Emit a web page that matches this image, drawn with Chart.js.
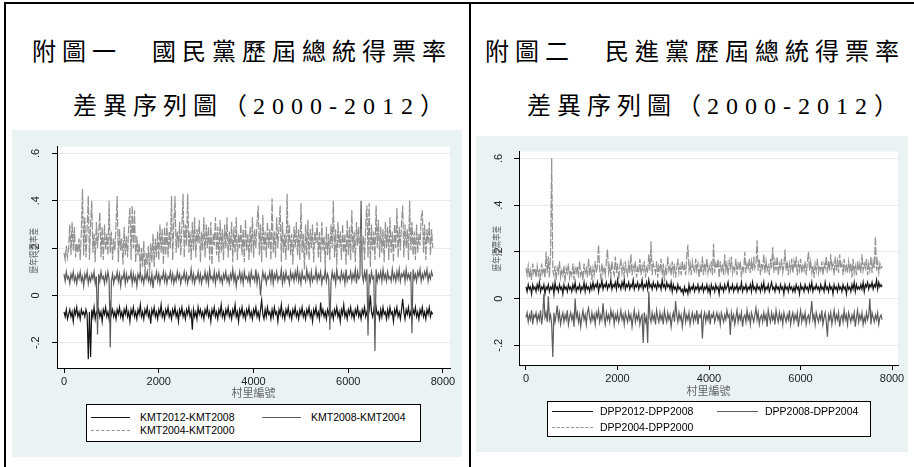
<!DOCTYPE html>
<html>
<head>
<meta charset="utf-8">
<script src="https://cdn.jsdelivr.net/npm/chart.js@4.4.1/dist/chart.umd.min.js"></script>
<style>
    html, body { margin: 0; padding: 0; background: #fff; }
    body { width: 914px; height: 467px; position: relative; overflow: hidden;
           font-family: "Liberation Sans", Arial, sans-serif; }
    .rule  { position: absolute; background: #000; }
    .title { position: absolute; white-space: nowrap; color: #000;
             font-family: "Liberation Serif", "Noto Sans CJK TC", serif;
             font-size: 24px; line-height: 24px; letter-spacing: 6px; }
    .title .num { letter-spacing: 7px; }
    .panel { position: absolute; background: #eaf2f3; }
    .panel canvas { position: absolute; left: 0; top: 0; }
    .legend { position: absolute; box-sizing: border-box; background: #fff;
              border: 1px solid #000; font-size: 10.5px; color: #000; }
    .item { position: absolute; height: 14px; line-height: 14px;
            display: flex; align-items: center; white-space: nowrap; }
    .swatch { display: inline-block; height: 0; border-top: 1px solid #000; }
</style>
</head>
<body>

<div class="rule" style="left:4px;top:2px;width:910px;height:2px"></div>
<div class="rule" style="left:4px;top:2px;width:2px;height:465px"></div>
<div class="rule" style="left:469px;top:2px;width:2px;height:465px"></div>

<div class="title" style="left:32px;top:40px">附圖一　國民黨歷屆總統得票率</div>
<div class="title" style="left:73px;top:94px">差異序列圖（<span class="num">2000-2012</span>）</div>
<div class="title" style="left:485px;top:40px">附圖二　民進黨歷屆總統得票率</div>
<div class="title" style="left:527px;top:94px">差異序列圖（<span class="num">2000-2012</span>）</div>

<div class="panel" style="left:12px;top:130px;width:450px;height:327px">
    <canvas id="kmtChart" width="450" height="327"></canvas>
</div>
<div class="panel" style="left:476px;top:136px;width:432px;height:316px">
    <canvas id="dppChart" width="432" height="316"></canvas>
</div>

<div class="legend" id="kmtLegend" style="left:86px;top:404px;width:335px;height:38px"></div>
<div class="legend" id="dppLegend" style="left:547px;top:401px;width:324px;height:36px"></div>

<script>
// ── Data ──────────────────────────────────────────────
const villageStep = 24.4;   // 村里編號 spacing between plotted points
const xTicks = [0, 2000, 4000, 6000, 8000];
const xTickLabels = ['0', '2000', '4000', '6000', '8000'];
const yTicks = [-0.2, 0, 0.2, 0.4, 0.6];
const yTickLabels = ['-.2', '0', '.2', '.4', '.6'];
const xTitle = '村里編號';
const yTitle = '歷年得票率差';

const kmtNames = ['KMT2012-KMT2008', 'KMT2008-KMT2004', 'KMT2004-KMT2000'];
const dppNames = ['DPP2012-DPP2008', 'DPP2008-DPP2004', 'DPP2004-DPP2000'];

const kmt1208 = [
    -0.07, -0.09, -0.06, -0.10, -0.08, -0.06, -0.09, -0.07, -0.11, -0.06, -0.08, -0.05, -0.09, -0.07, -0.10, -0.06, -0.08, -0.07, -0.09, -0.06,
    -0.08, -0.27, -0.07, -0.26, -0.06, -0.09, -0.05, -0.10, -0.07, -0.08, -0.06, -0.09, -0.07, -0.11, -0.06, -0.08, -0.05, -0.09, -0.07, -0.10,
    -0.04, -0.08, -0.06, -0.09, -0.07, -0.10, -0.06, -0.08, -0.05, -0.09, -0.07, -0.10, -0.06, -0.08, -0.05, -0.09, -0.07, -0.11, -0.06, -0.08,
    -0.05, -0.09, -0.07, -0.10, -0.06, -0.08, -0.04, -0.09, -0.07, -0.10, -0.06, -0.08, -0.05, -0.09, -0.07, -0.12, -0.06, -0.08, -0.05, -0.09,
    -0.07, -0.10, -0.06, -0.08, -0.04, -0.09, -0.07, -0.10, -0.06, -0.08, -0.05, -0.09, -0.07, -0.10, -0.06, -0.08, -0.05, -0.09, -0.07, -0.11,
    -0.06, -0.08, -0.05, -0.09, -0.07, -0.10, -0.06, -0.08, -0.05, -0.09, -0.07, -0.145, -0.06, -0.09, -0.07, -0.10, -0.05, -0.08, -0.06, -0.09,
    -0.07, -0.10, -0.06, -0.08, -0.05, -0.09, -0.07, -0.11, -0.06, -0.08, -0.05, -0.09, -0.07, -0.10, -0.06, -0.08, -0.04, -0.09, -0.07, -0.10,
    -0.06, -0.08, -0.05, -0.09, -0.07, -0.10, -0.06, -0.08, -0.04, -0.09, -0.07, -0.11, -0.06, -0.08, -0.05, -0.09, -0.07, -0.10, -0.06, -0.08,
    -0.05, -0.09, -0.07, -0.10, -0.06, -0.08, -0.05, -0.09, -0.07, -0.10, -0.06, -0.02, -0.08, -0.10, -0.06, -0.09, -0.05, -0.08, -0.07, -0.10,
    -0.06, -0.09, -0.05, -0.08, -0.07, -0.11, -0.06, -0.08, -0.04, -0.09, -0.07, -0.10, -0.06, -0.08, -0.05, -0.09, -0.07, -0.10, -0.06, -0.08,
    -0.05, -0.09, -0.07, -0.10, -0.06, -0.08, -0.05, -0.09, -0.07, -0.10, -0.06, -0.08, -0.05, -0.09, -0.07, -0.11, -0.06, -0.08, -0.05, -0.09,
    -0.07, -0.10, -0.03, -0.08, -0.06, -0.09, -0.07, -0.10, -0.06, -0.08, -0.05, -0.09, -0.07, -0.10, -0.06, -0.08, -0.05, -0.09, -0.07, -0.11,
    -0.06, -0.08, -0.04, -0.09, -0.07, -0.10, -0.06, -0.08, -0.05, -0.09, -0.07, -0.10, -0.06, -0.08, -0.05, -0.09, -0.07, -0.10, -0.06, -0.08,
    -0.05, -0.09, -0.07, -0.10, -0.06, 0.00, -0.07, -0.09, -0.06, -0.10, -0.05, -0.08, -0.07, -0.10, -0.06, -0.09, -0.05, -0.08, -0.07, -0.10,
    -0.06, -0.09, -0.05, -0.08, -0.07, -0.11, -0.06, -0.08, -0.05, -0.09, -0.07, -0.10, -0.06, -0.015, -0.07, -0.10, -0.06, -0.08, -0.05, -0.09,
    -0.07, -0.10, -0.06, -0.08, -0.05, -0.09, -0.07, -0.10, -0.06, -0.08, -0.05, -0.09, -0.07, -0.10, -0.06, -0.08, -0.05, -0.09, -0.07, -0.08,
];
const kmt0804 = [
    0.09, 0.06, 0.10, 0.07, 0.08, 0.05, 0.09, 0.07, 0.10, 0.06, 0.08, 0.05, 0.09, 0.07, 0.10, 0.06, 0.08, 0.04, 0.09, 0.07,
    0.10, 0.05, 0.08, 0.06, 0.09, 0.07, 0.10, 0.05, 0.08, -0.165, 0.09, 0.06, 0.10, 0.07, 0.08, 0.05, 0.09, 0.06, 0.10, 0.07,
    -0.22, 0.06, 0.09, 0.05, 0.08, 0.07, 0.10, 0.06, 0.09, 0.04, 0.08, 0.07, 0.10, 0.05, 0.09, 0.06, 0.08, 0.07, 0.10, 0.05,
    0.09, 0.06, 0.08, 0.04, 0.09, 0.07, 0.10, 0.06, 0.08, 0.05, 0.09, 0.07, 0.10, 0.06, 0.08, 0.05, 0.09, 0.03, 0.08, 0.07,
    0.10, 0.06, 0.09, 0.05, 0.08, 0.07, 0.10, 0.06, 0.09, 0.05, 0.08, 0.07, 0.10, 0.06, 0.09, 0.05, 0.08, 0.06, 0.10, 0.07,
    0.09, 0.05, 0.08, 0.07, 0.10, 0.06, 0.09, 0.05, 0.08, 0.07, 0.11, 0.06, 0.09, 0.05, 0.08, 0.07, 0.10, 0.06, 0.09, 0.05,
    0.08, 0.07, 0.10, 0.06, 0.09, 0.05, 0.11, 0.07, 0.08, 0.06, 0.10, 0.05, 0.09, 0.07, 0.10, 0.06, 0.08, 0.05, 0.09, 0.07,
    0.10, 0.06, 0.08, 0.05, 0.09, 0.07, 0.11, 0.06, 0.09, 0.04, 0.08, 0.07, 0.10, 0.06, 0.09, 0.05, 0.10, 0.07, 0.08, 0.06,
    0.09, 0.05, 0.10, 0.07, 0.08, 0.06, 0.11, 0.05, 0.09, 0.07, 0.00, 0.06, 0.10, 0.07, 0.09, 0.05, 0.08, 0.07, 0.10, 0.06,
    0.11, 0.05, 0.09, 0.07, 0.10, 0.06, 0.08, 0.07, 0.11, 0.05, 0.09, 0.06, 0.10, 0.07, 0.08, 0.05, 0.10, 0.07, 0.09, 0.06,
    0.10, 0.07, 0.11, 0.06, 0.09, 0.05, 0.10, 0.07, 0.08, 0.06, 0.11, 0.07, 0.09, 0.05, 0.10, 0.06, 0.08, 0.07, 0.11, 0.06,
    0.09, 0.07, 0.10, 0.05, 0.08, 0.07, 0.11, 0.06, 0.09, 0.07, -0.145, 0.06, 0.10, 0.07, 0.09, 0.05, 0.11, 0.07, 0.08, 0.06,
    0.10, 0.07, 0.09, 0.05, 0.11, 0.06, 0.08, 0.07, 0.10, 0.06, 0.09, 0.07, 0.11, 0.05, 0.10, 0.07, 0.08, 0.40, 0.09, 0.06,
    0.10, 0.07, 0.11, -0.17, 0.09, 0.06, 0.10, 0.07, 0.08, -0.235, 0.11, 0.06, 0.09, 0.07, 0.10, 0.06, 0.11, 0.07, 0.09, 0.06,
    0.10, 0.07, 0.08, 0.06, 0.11, 0.07, 0.09, 0.06, 0.10, 0.07, 0.11, 0.06, 0.09, 0.08, 0.10, 0.06, 0.11, 0.07, 0.09, 0.07,
    0.10, -0.16, 0.11, 0.07, 0.09, 0.06, 0.10, 0.08, 0.11, 0.06, 0.09, 0.07, 0.10, 0.08, 0.11, 0.06, 0.09, 0.07, 0.10, 0.08,
];
const kmt0400 = [
    0.18, 0.15, 0.21, 0.16, 0.20, 0.30, 0.17, 0.31, 0.19, 0.29, 0.16, 0.22, 0.18, 0.24, 0.15, 0.27, 0.45, 0.17, 0.33, 0.16,
    0.28, 0.42, 0.15, 0.30, 0.40, 0.18, 0.26, 0.14, 0.31, 0.20, 0.27, 0.35, 0.16, 0.29, 0.15, 0.30, 0.19, 0.26, 0.17, 0.40,
    0.18, 0.27, 0.15, 0.24, 0.19, 0.30, 0.42, 0.14, 0.28, 0.19, 0.24, 0.13, 0.29, 0.17, 0.25, 0.16, 0.30, 0.37, 0.15, 0.38,
    0.20, 0.36, 0.14, 0.25, 0.17, 0.22, 0.10, 0.20, 0.12, 0.23, 0.08, 0.18, 0.13, 0.21, 0.09, 0.22, 0.14, 0.26, 0.12, 0.24,
    0.16, 0.27, 0.15, 0.30, 0.18, 0.28, 0.13, 0.29, 0.17, 0.31, 0.16, 0.27, 0.20, 0.42, 0.15, 0.30, 0.42, 0.18, 0.27, 0.20,
    0.31, 0.17, 0.29, 0.43, 0.16, 0.30, 0.21, 0.43, 0.18, 0.27, 0.15, 0.31, 0.19, 0.33, 0.16, 0.28, 0.22, 0.32, 0.14, 0.27,
    0.19, 0.33, 0.16, 0.30, 0.20, 0.29, 0.15, 0.31, 0.13, 0.26, 0.21, 0.33, 0.17, 0.29, 0.14, 0.32, 0.18, 0.28, 0.15, 0.30,
    0.20, 0.33, 0.16, 0.27, 0.19, 0.31, 0.14, 0.29, 0.18, 0.33, 0.15, 0.26, 0.20, 0.30, 0.17, 0.28, 0.14, 0.32, 0.19, 0.26,
    0.15, 0.29, 0.18, 0.33, 0.16, 0.28, 0.20, 0.31, 0.38, 0.17, 0.30, 0.14, 0.34, 0.19, 0.27, 0.16, 0.31, 0.20, 0.28, 0.15,
    0.41, 0.18, 0.27, 0.16, 0.33, 0.20, 0.29, 0.38, 0.14, 0.31, 0.18, 0.26, 0.15, 0.43, 0.19, 0.30, 0.17, 0.26, 0.13, 0.29,
    0.20, 0.31, 0.17, 0.28, 0.15, 0.39, 0.18, 0.26, 0.11, 0.30, 0.17, 0.32, 0.15, 0.28, 0.20, 0.30, 0.14, 0.27, 0.22, 0.31,
    0.16, 0.27, 0.14, 0.31, 0.19, 0.25, 0.12, 0.29, 0.17, 0.26, 0.15, 0.30, 0.20, 0.40, 0.16, 0.28, 0.13, 0.31, 0.20, 0.27,
    0.15, 0.30, 0.18, 0.26, 0.13, 0.32, 0.17, 0.29, 0.15, 0.36, 0.18, 0.27, 0.14, 0.31, 0.21, 0.29, 0.16, 0.28, 0.19, 0.25,
    0.15, 0.30, 0.38, 0.16, 0.39, 0.12, 0.30, 0.19, 0.27, 0.15, 0.38, 0.20, 0.32, 0.16, 0.29, 0.18, 0.28, 0.14, 0.31, 0.20,
    0.29, 0.15, 0.33, 0.18, 0.27, 0.14, 0.30, 0.20, 0.37, 0.16, 0.29, 0.19, 0.31, 0.38, 0.16, 0.30, 0.20, 0.28, 0.15, 0.40,
    0.19, 0.31, 0.17, 0.27, 0.15, 0.30, 0.18, 0.26, 0.21, 0.33, 0.36, 0.18, 0.30, 0.15, 0.28, 0.22, 0.31, 0.17, 0.28, 0.20,
];

const dpp1208 = [
    0.05, 0.03, 0.06, 0.04, 0.05, 0.02, 0.06, 0.04, 0.05, 0.03, 0.06, 0.04, 0.07, 0.03, 0.05, 0.04, 0.06, 0.02, 0.05, 0.04,
    0.06, 0.03, 0.05, 0.04, 0.06, 0.02, 0.07, 0.04, 0.05, 0.03, 0.06, 0.04, 0.05, 0.02, 0.06, 0.04, 0.05, 0.03, 0.06, 0.04,
    0.05, 0.03, 0.06, 0.04, 0.07, 0.03, 0.05, 0.04, 0.06, 0.03, 0.05, 0.04, 0.07, 0.03, 0.06, 0.04, 0.05, 0.03, 0.06, 0.04,
    0.07, 0.04, 0.06, 0.05, 0.07, 0.03, 0.06, 0.05, 0.08, 0.04, 0.06, 0.05, 0.07, 0.04, 0.06, 0.05, 0.08, 0.04, 0.06, 0.05,
    0.07, 0.04, 0.08, 0.05, 0.06, 0.04, 0.07, 0.05, 0.08, 0.04, 0.06, 0.05, 0.07, 0.04, 0.06, 0.05, 0.08, 0.04, 0.06, 0.05,
    0.07, 0.04, 0.06, 0.05, 0.08, 0.04, 0.06, 0.05, 0.07, 0.04, 0.08, 0.05, 0.06, 0.04, 0.07, 0.05, 0.06, 0.04, 0.07, 0.05,
    0.06, 0.04, 0.08, 0.05, 0.06, 0.04, 0.07, 0.05, 0.06, 0.04, 0.07, 0.03, 0.06, 0.04, 0.05, 0.03, 0.06, 0.04, 0.05, 0.03,
    0.04, 0.02, 0.05, 0.03, 0.04, 0.02, 0.06, 0.03, 0.05, 0.04, 0.06, 0.03, 0.05, 0.04, 0.06, 0.03, 0.05, 0.04, 0.06, 0.03,
    0.05, 0.04, 0.06, 0.03, 0.05, 0.02, 0.06, 0.04, 0.05, 0.03, 0.06, 0.04, 0.05, 0.02, 0.06, 0.04, 0.05, 0.03, 0.06, 0.04,
    0.05, 0.07, 0.03, 0.05, 0.04, 0.06, 0.03, 0.05, 0.04, 0.06, 0.03, 0.05, 0.04, 0.07, 0.03, 0.05, 0.04, 0.06, 0.03, 0.05,
    0.04, 0.06, 0.03, 0.07, 0.04, 0.05, 0.03, 0.06, 0.04, 0.05, 0.03, 0.06, 0.04, 0.07, 0.03, 0.05, 0.04, 0.06, 0.03, 0.05,
    0.07, 0.04, 0.05, 0.03, 0.06, 0.04, 0.05, 0.03, 0.06, 0.04, 0.05, 0.02, 0.06, 0.04, 0.05, 0.03, 0.06, 0.04, 0.05, 0.03,
    0.05, 0.03, 0.06, 0.04, 0.05, 0.02, 0.06, 0.04, 0.05, 0.03, 0.06, 0.04, 0.05, 0.03, 0.06, 0.04, 0.07, 0.03, 0.05, 0.04,
    0.06, 0.04, 0.05, 0.03, 0.06, 0.04, 0.05, 0.03, 0.07, 0.04, 0.05, 0.03, 0.06, 0.04, 0.05, 0.02, 0.06, 0.04, 0.05, 0.03,
    0.06, 0.04, 0.05, 0.03, 0.06, 0.04, 0.05, 0.02, 0.06, 0.04, 0.05, 0.03, 0.06, 0.04, 0.07, 0.03, 0.06, 0.04, 0.05, 0.04,
    0.06, 0.04, 0.07, 0.03, 0.06, 0.05, 0.07, 0.04, 0.06, 0.05, 0.07, 0.04, 0.06, 0.05, 0.08, 0.04, 0.07, 0.05, 0.06, 0.05,
];
const dpp0804 = [
    -0.08, -0.06, -0.10, -0.07, -0.09, -0.05, -0.11, -0.07, -0.08, -0.06, -0.10, -0.07, -0.09, -0.05, -0.11, -0.07, 0.02, -0.08, -0.06, -0.10,
    0.01, -0.09, -0.07, -0.11, -0.25, -0.06, -0.10, -0.07, -0.03, -0.09, -0.06, -0.11, -0.08, -0.06, -0.10, -0.07, -0.09, -0.05, -0.11, -0.08,
    -0.06, -0.09, -0.07, -0.12, 0.00, -0.08, -0.06, -0.10, -0.07, -0.12, -0.08, -0.05, -0.09, -0.07, -0.11, -0.06, -0.04, -0.08, -0.10, -0.06,
    -0.09, -0.07, -0.11, -0.06, -0.08, -0.05, -0.10, -0.07, -0.09, -0.02, -0.08, -0.11, -0.06, -0.09, -0.07, -0.10, -0.05, -0.08, -0.06, -0.11,
    -0.07, -0.09, -0.06, -0.10, -0.08, -0.05, -0.09, -0.07, -0.11, -0.06, -0.08, -0.10, -0.06, -0.09, -0.07, -0.12, -0.08, -0.05, -0.10, -0.07,
    -0.09, -0.06, -0.11, -0.08, -0.07, -0.19, -0.06, -0.10, -0.08, -0.19, 0.03, -0.08, -0.10, -0.06, -0.09, -0.07, -0.11, -0.05, -0.08, -0.10,
    -0.06, -0.09, -0.07, -0.11, -0.05, -0.08, -0.10, -0.06, -0.09, -0.07, -0.12, -0.08, -0.06, -0.10, -0.01, -0.07, -0.10, -0.06, -0.09, -0.07,
    -0.12, -0.08, -0.05, -0.10, -0.07, -0.09, -0.06, -0.11, -0.08, -0.06, -0.10, -0.07, -0.09, -0.05, -0.11, -0.07, -0.08, -0.06, -0.17, -0.08,
    -0.06, -0.10, -0.07, -0.09, -0.05, -0.11, -0.07, -0.08, -0.06, -0.10, -0.08, -0.06, -0.09, -0.07, -0.11, -0.06, -0.08, -0.10, -0.07, -0.09,
    -0.05, -0.08, -0.07, -0.155, -0.06, -0.09, -0.07, -0.11, -0.08, -0.05, -0.10, -0.07, -0.09, -0.06, -0.12, -0.08, -0.07, -0.10, -0.05, -0.09,
    -0.07, -0.11, -0.06, -0.08, -0.10, -0.07, -0.04, -0.09, -0.06, -0.11, -0.08, -0.07, -0.10, -0.06, -0.09, -0.07, -0.12, -0.05, -0.08, -0.10,
    -0.06, -0.09, -0.07, -0.11, -0.05, -0.08, -0.10, -0.06, -0.09, -0.07, -0.11, -0.06, -0.08, -0.10, -0.07, -0.09, -0.05, -0.11, -0.08, -0.06,
    -0.10, -0.07, -0.09, -0.06, -0.12, -0.08, -0.05, -0.10, -0.07, -0.09, -0.06, -0.11, -0.08, -0.07, -0.10, -0.06, -0.01, -0.09, -0.07, -0.11,
    -0.06, -0.08, -0.10, -0.07, -0.09, -0.05, -0.11, -0.08, -0.06, -0.10, -0.163, -0.07, -0.09, -0.06, -0.11, -0.08, -0.05, -0.10, -0.07, -0.09,
    -0.06, -0.12, -0.08, -0.07, -0.10, -0.05, -0.09, -0.07, -0.11, -0.06, -0.08, -0.10, -0.07, -0.09, -0.06, -0.12, -0.08, -0.05, -0.10, -0.07,
    -0.09, -0.06, -0.11, -0.08, -0.10, -0.06, -0.09, -0.07, 0.00, -0.11, -0.06, -0.08, -0.10, -0.07, -0.09, -0.06, -0.11, -0.08, -0.07, -0.09,
];
const dpp0400 = [
    0.13, 0.10, 0.14, 0.09, 0.12, 0.08, 0.15, 0.11, 0.13, 0.09, 0.14, 0.10, 0.12, 0.08, 0.15, 0.11, 0.13, 0.09, 0.20, 0.11,
    0.18, 0.09, 0.19, 0.60, 0.12, 0.10, 0.14, 0.08, 0.13, 0.11, 0.16, 0.09, 0.12, 0.10, 0.14, 0.07, 0.13, 0.11, 0.15, 0.09,
    0.12, 0.10, 0.15, 0.08, 0.13, 0.11, 0.14, 0.09, 0.16, 0.10, 0.12, 0.08, 0.15, 0.11, 0.13, 0.09, 0.17, 0.10, 0.14, 0.08,
    0.13, 0.10, 0.16, 0.11, 0.14, 0.23, 0.12, 0.09, 0.15, 0.11, 0.13, 0.10, 0.16, 0.21, 0.11, 0.14, 0.09, 0.16, 0.12, 0.10,
    0.18, 0.11, 0.15, 0.08, 0.13, 0.17, 0.11, 0.14, 0.09, 0.16, 0.12, 0.10, 0.15, 0.11, 0.19, 0.10, 0.14, 0.12, 0.16, 0.09,
    0.13, 0.11, 0.17, 0.10, 0.14, 0.12, 0.16, 0.09, 0.13, 0.11, 0.19, 0.12, 0.245, 0.10, 0.15, 0.13, 0.11, 0.16, 0.09, 0.14,
    0.12, 0.17, 0.10, 0.15, 0.07, 0.13, 0.11, 0.18, 0.12, 0.14, 0.10, 0.16, 0.11, 0.15, 0.09, 0.13, 0.17, 0.11, 0.14, 0.10,
    0.16, 0.12, 0.14, 0.10, 0.18, 0.23, 0.12, 0.15, 0.10, 0.16, 0.13, 0.11, 0.17, 0.12, 0.15, 0.09, 0.14, 0.11, 0.18, 0.10,
    0.15, 0.12, 0.17, 0.11, 0.14, 0.12, 0.16, 0.10, 0.235, 0.11, 0.15, 0.13, 0.17, 0.09, 0.16, 0.12, 0.14, 0.10, 0.19, 0.12,
    0.15, 0.10, 0.16, 0.13, 0.18, 0.11, 0.14, 0.12, 0.17, 0.10, 0.15, 0.13, 0.16, 0.09, 0.14, 0.12, 0.20, 0.11, 0.15, 0.13,
    0.17, 0.11, 0.16, 0.12, 0.18, 0.13, 0.15, 0.25, 0.12, 0.17, 0.10, 0.15, 0.13, 0.19, 0.11, 0.16, 0.12, 0.14, 0.10, 0.17,
    0.13, 0.22, 0.11, 0.16, 0.12, 0.18, 0.10, 0.15, 0.13, 0.17, 0.11, 0.14, 0.21, 0.12, 0.16, 0.10, 0.15, 0.12, 0.17, 0.11,
    0.16, 0.13, 0.18, 0.10, 0.15, 0.12, 0.17, 0.11, 0.14, 0.12, 0.16, 0.10, 0.15, 0.20, 0.12, 0.16, 0.11, 0.14, 0.09, 0.15,
    0.12, 0.17, 0.11, 0.14, 0.12, 0.16, 0.10, 0.15, 0.13, 0.18, 0.11, 0.16, 0.12, 0.19, 0.13, 0.15, 0.10, 0.18, 0.12, 0.16,
    0.11, 0.19, 0.13, 0.15, 0.10, 0.17, 0.12, 0.14, 0.11, 0.16, 0.12, 0.15, 0.09, 0.17, 0.11, 0.14, 0.10, 0.16, 0.12, 0.15,
    0.11, 0.19, 0.12, 0.15, 0.13, 0.17, 0.10, 0.15, 0.12, 0.18, 0.11, 0.16, 0.13, 0.265, 0.12, 0.16, 0.11, 0.15, 0.13, 0.14,
];

// ── Styles (Stata s2 mono look) ───────────────────────
const lineStyles = [
    { color: '#141414', dash: [], width: 1.2 },
    { color: '#5c5c5c', dash: [], width: 1.2 },
    { color: '#929292', dash: [8, 1.5], width: 1.2 },
];
const axisFont = { family: 'Liberation Sans', size: 11 };

// white plot region inside the light graph region
const plotBg = {
    id: 'plotBg',
    beforeDraw(chart) {
        const { ctx, chartArea: a } = chart;
        ctx.save();
        ctx.fillStyle = '#fff';
        ctx.fillRect(a.left, a.top, a.right - a.left, a.bottom - a.top);
        ctx.restore();
    },
};

// rotated y title, drawn where Stata put it (over the .2 label)
const yTitlePlugin = {
    id: 'yTitle',
    afterDraw(chart, args, o) {
        const { ctx, chartArea: a } = chart;
        ctx.save();
        ctx.translate(o.x, a.top + o.dy);
        ctx.rotate(-Math.PI / 2);
        ctx.scale(0.8, 1);
        ctx.font = '9.5px "Noto Sans CJK TC"';
        ctx.fillStyle = '#666';
        ctx.textAlign = 'center';
        ctx.textBaseline = 'middle';
        ctx.fillText(yTitle, 0, 0);
        ctx.restore();
    },
};

function makeChart(id, names, seriesList, box) {
    const datasets = seriesList.map((vals, k) => ({
        label: names[k],
        data: vals.map((v, i) => ({ x: i * villageStep, y: v })),
        borderColor: lineStyles[k].color,
        borderDash: lineStyles[k].dash,
        borderWidth: lineStyles[k].width,
        pointRadius: 0,
        tension: 0,
        order: seriesList.length - k,   // first series underneath, like Stata
    }));

    return new Chart(document.getElementById(id), {
        type: 'line',
        data: { datasets },
        plugins: [plotBg, yTitlePlugin],
        options: {
            responsive: false,
            animation: false,
            events: [],
            layout: { padding: box.padding },
            plugins: {
                legend: { display: false },
                tooltip: { enabled: false },
                yTitle: { x: box.yTitleX, dy: box.yTitleDy },
            },
            scales: {
                x: {
                    type: 'linear',
                    min: box.xMin,
                    max: box.xMax,
                    afterBuildTicks: s => { s.ticks = xTicks.map(v => ({ value: v })); },
                    afterFit: s => { s.height = 32; },
                    ticks: {
                        color: '#222',
                        font: axisFont,
                        padding: 2,
                        maxRotation: 0,
                        autoSkip: false,
                        callback: (v, i) => xTickLabels[i],
                    },
                    grid: { drawOnChartArea: false, drawTicks: true, tickLength: 5, tickColor: '#000' },
                    border: { display: true, color: '#000' },
                    title: {
                        display: true,
                        text: xTitle,
                        color: '#666',
                        font: { family: 'Noto Sans CJK TC', size: 11 },
                        padding: { top: 0, bottom: box.xTitlePad },
                    },
                },
                y: {
                    min: box.yMin,
                    max: box.yMax,
                    afterBuildTicks: s => { s.ticks = yTicks.map(v => ({ value: v })); },
                    afterFit: s => { s.width = box.yWidth; },
                    ticks: {
                        color: '#222',
                        font: axisFont,
                        minRotation: 90,
                        maxRotation: 90,
                        crossAlign: 'center',
                        padding: box.yTickPad,
                        autoSkip: false,
                        callback: (v, i) => yTickLabels[i],
                    },
                    grid: { color: '#e3ecee', lineWidth: 1, drawTicks: true, tickLength: 5, tickColor: '#000' },
                    border: { display: true, color: '#000' },
                },
            },
        },
    });
}

// ── Legend boxes (HTML, Stata style) ──────────────────
function buildLegend(id, names, spec) {
    const box = document.getElementById(id);
    names.forEach((name, k) => {
        const p = spec.items[k];
        const item = document.createElement('div');
        item.className = 'item';
        item.style.left = p.x + 'px';
        item.style.top = (p.y - 7) + 'px';
        const sw = document.createElement('span');
        sw.className = 'swatch';
        sw.style.width = spec.swatch + 'px';
        sw.style.marginRight = spec.gap + 'px';
        sw.style.borderTopColor = lineStyles[k].color;
        if (lineStyles[k].dash.length) sw.style.borderTopStyle = 'dashed';
        const label = document.createElement('span');
        label.textContent = name;
        item.appendChild(sw);
        item.appendChild(label);
        box.appendChild(item);
    });
}

makeChart('kmtChart', kmtNames, [kmt1208, kmt0804, kmt0400], {
    padding: { left: 0, top: 11, right: 12, bottom: 57 },
    xMin: -148, xMax: 8148, yMin: -0.307, yMax: 0.629,
    yWidth: 45, yTickPad: 10, xTitlePad: 1,
    yTitleX: 21, yTitleDy: 104,
});
makeChart('dppChart', dppNames, [dpp1208, dpp0804, dpp0400], {
    padding: { left: 0, top: 12, right: 10, bottom: 55 },
    xMin: -153, xMax: 8131, yMin: -0.284, yMax: 0.629,
    yWidth: 43, yTickPad: 9, xTitlePad: 0,
    yTitleX: 20, yTitleDy: 97,
});

buildLegend('kmtLegend', kmtNames, {
    swatch: 39, gap: 10,
    items: [{ x: 4, y: 12 }, { x: 175, y: 12 }, { x: 4, y: 25 }],
});
buildLegend('dppLegend', dppNames, {
    swatch: 41, gap: 7,
    items: [{ x: 4, y: 9 }, { x: 169, y: 9 }, { x: 4, y: 25 }],
});
</script>
</body>
</html>
